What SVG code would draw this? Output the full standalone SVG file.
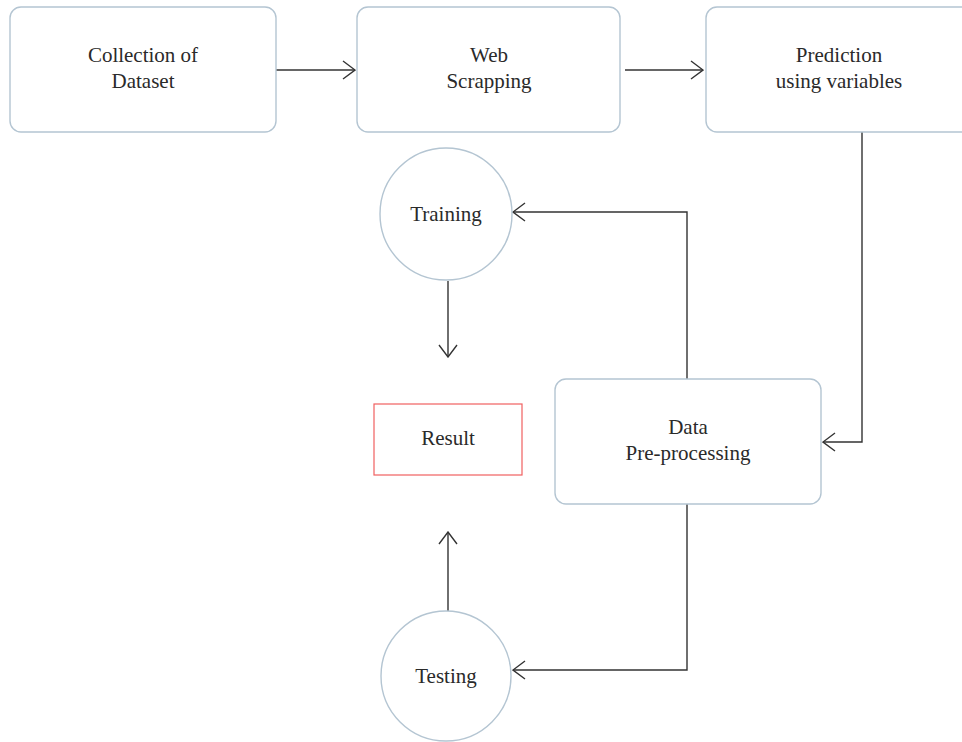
<svg xmlns="http://www.w3.org/2000/svg" width="962" height="742" viewBox="0 0 962 742">
<defs>
<marker id="arr" markerWidth="14" markerHeight="20" refX="13" refY="10" orient="auto" markerUnits="userSpaceOnUse">
<path d="M1,1 L13,10 L1,19" fill="none" stroke="#333" stroke-width="1.4"/>
</marker>
<style>
.box{fill:#fff;stroke:#b4c5d2;stroke-width:1.4}
.res{fill:#fff;stroke:#f06060;stroke-width:1.2}
.t{font-family:'Liberation Serif','Times New Roman',serif;font-size:21px;fill:#2a2a2a;text-anchor:middle}
.c{fill:none;stroke:#333;stroke-width:1.4}
</style>
</defs>
<rect width="962" height="742" fill="#fff"/>
<g id="connectors">
<line class="c" x1="276" y1="70" x2="355" y2="70" marker-end="url(#arr)"/>
<line class="c" x1="625" y1="70" x2="703" y2="70" marker-end="url(#arr)"/>
<polyline class="c" points="862,132 862,442 823,442" marker-end="url(#arr)"/>
<polyline class="c" points="687,379 687,212 513,212" marker-end="url(#arr)"/>
<line class="c" x1="448" y1="281" x2="448" y2="357" marker-end="url(#arr)"/>
<polyline class="c" points="687,504 687,670 513,670" marker-end="url(#arr)"/>
<line class="c" x1="448" y1="611" x2="448" y2="532" marker-end="url(#arr)"/>
</g>
<g id="collection">
<rect class="box" x="10" y="7" width="266" height="125" rx="11"/>
<text class="t" x="143" y="62" font-family="Liberation Serif, serif">Collection of</text>
<text class="t" x="143" y="88" font-family="Liberation Serif, serif">Dataset</text>
</g>
<g id="web">
<rect class="box" x="357" y="7" width="263" height="125" rx="11"/>
<text class="t" x="489" y="62" font-family="Liberation Serif, serif">Web</text>
<text class="t" x="489" y="88" font-family="Liberation Serif, serif">Scrapping</text>
</g>
<g id="prediction">
<rect class="box" x="706" y="7" width="266" height="125" rx="11"/>
<text class="t" x="839" y="62" font-family="Liberation Serif, serif">Prediction</text>
<text class="t" x="839" y="88" font-family="Liberation Serif, serif">using variables</text>
</g>
<g id="training">
<circle class="box" cx="446" cy="214" r="66"/>
<text class="t" x="446" y="221" font-family="Liberation Serif, serif">Training</text>
</g>
<g id="result">
<rect class="res" x="374" y="404" width="148" height="71"/>
<text class="t" x="448" y="445" font-family="Liberation Serif, serif">Result</text>
</g>
<g id="preprocessing">
<rect class="box" x="555" y="379" width="266" height="125" rx="11"/>
<text class="t" x="688" y="434" font-family="Liberation Serif, serif">Data</text>
<text class="t" x="688" y="460" font-family="Liberation Serif, serif">Pre-processing</text>
</g>
<g id="testing">
<circle class="box" cx="446" cy="676" r="65"/>
<text class="t" x="446" y="683" font-family="Liberation Serif, serif">Testing</text>
</g>
</svg>
